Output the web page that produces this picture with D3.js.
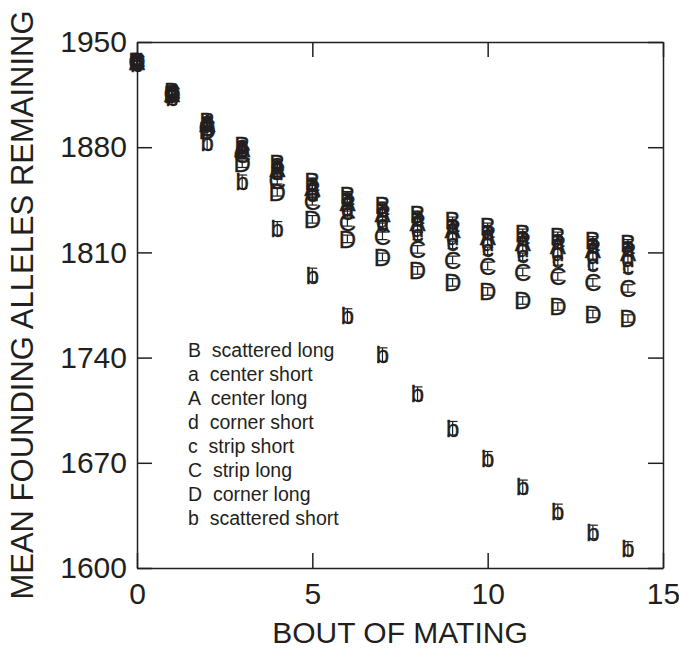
<!DOCTYPE html>
<html><head><meta charset="utf-8">
<script src="https://cdn.jsdelivr.net/npm/d3@7"></script>
<style>body{margin:0;background:#fff}</style>
</head><body><svg id="c" width="679" height="650"></svg>
<script>
const bouts = [0,1,2,3,4,5,6,7,8,9,10,11,12,13,14];
const seriesKeys = ["B","a","A","d","c","C","D","b"];
const seriesNames = ["scattered long","center short","center long","corner short","strip short","strip long","corner long","scattered short"];
const valB = [1937,1917,1897,1881,1869,1857,1848,1841,1835,1831,1827,1823,1821,1818,1816];
const vala = [1937,1917,1896,1880,1868,1855,1846,1839,1833,1828,1824,1820,1818,1815,1813];
const valA = [1937,1916,1896,1879,1866,1853,1843,1836,1830,1825,1821,1817,1815,1812,1810];
const vald = [1937,1916,1895,1878,1864,1850,1840,1832,1826,1821,1817,1813,1810,1808,1806];
const valc = [1937,1916,1894,1877,1862,1848,1836,1828,1821,1815,1811,1807,1804,1801,1799];
const valC = [1937,1916,1893,1875,1858,1844,1830,1821,1812,1805,1801,1797,1794,1790,1786];
const valD = [1937,1915,1891,1869,1850,1832,1819,1807,1798,1790,1784,1778,1774,1769,1766];
const valb = [1936,1913,1883,1857,1826,1795,1768,1742,1716,1693,1673,1654,1638,1624,1613];
const seValues = [2.5,2.5,2.5,2.5,2.5,2.5,2.5,4.5];
const xTicks = [0,5,10,15];
const yTicks = [1600,1670,1740,1810,1880,1950];
const xTitle = "BOUT OF MATING";
const yTitle = "MEAN FOUNDING ALLELES REMAINING";

const allVals = [valB,vala,valA,vald,valc,valC,valD,valb];
const ink = "#231f20";
const font = "'Liberation Sans', Arial, Helvetica, sans-serif";
const svg = d3.select("#c");
const L = 137, R = 663, T = 42, Bm = 568;
const x = d3.scaleLinear().domain([0,15]).range([L,R]);
const y = d3.scaleLinear().domain([1600,1950]).range([Bm,T]);

function styleAxis(g){
  g.selectAll("path,line").attr("stroke", ink).attr("stroke-width", 1.5);
  g.selectAll("text").attr("fill", ink).attr("font-family", font).attr("font-size", 30);
}
svg.append("g").attr("transform",`translate(0,${Bm})`)
  .call(d3.axisBottom(x).tickValues(xTicks).tickSize(-15).tickSizeOuter(0).tickPadding(15).tickFormat(d3.format("d")))
  .call(styleAxis);
svg.append("g").attr("transform",`translate(0,${T})`)
  .call(d3.axisTop(x).tickValues(xTicks).tickSize(-15).tickSizeOuter(0).tickFormat(""))
  .call(styleAxis);
svg.append("g").attr("transform",`translate(${L},0)`)
  .call(d3.axisLeft(y).tickValues(yTicks).tickSize(-15).tickSizeOuter(0).tickPadding(10).tickFormat(d3.format("d")))
  .call(styleAxis);
svg.append("g").attr("transform",`translate(${R},0)`)
  .call(d3.axisRight(y).tickValues(yTicks).tickSize(-15).tickSizeOuter(0).tickFormat(""))
  .call(styleAxis);

// titles
svg.append("text").attr("x", (L+R)/2).attr("y", 643).attr("text-anchor","middle")
  .attr("font-family", font).attr("font-size", 30).attr("fill", ink).text(xTitle);
svg.append("text").attr("transform", `translate(33,${(T+Bm)/2}) rotate(-90)`).attr("text-anchor","middle")
  .attr("font-family", font).attr("font-size", 31).attr("fill", ink).text(yTitle);

// markers
const fs = 24, cap = 5;
const pts = [];
seriesKeys.forEach((k,i)=>{
  allVals[i].forEach((v,j)=>pts.push({k, x:bouts[j], v, se:seValues[i]}));
});
const gm = svg.append("g");
pts.forEach(p=>{
  const cx = x(p.x), cy = y(p.v);
  const off = (p.k === "a" || p.k === "c") ? 0.26*fs : 0.36*fs;
  gm.append("text").attr("x", cx).attr("y", cy + off).attr("text-anchor","middle")
    .attr("font-family", font).attr("font-size", fs).attr("fill", ink)
    .attr("stroke", ink).attr("stroke-width", 0.3).text(p.k);
  const y1 = y(p.v + p.se), y2 = y(p.v - p.se);
  gm.append("line").attr("x1",cx).attr("x2",cx).attr("y1",y1).attr("y2",y2).attr("stroke",ink).attr("stroke-width",1.2);
  gm.append("line").attr("x1",cx-cap).attr("x2",cx+cap).attr("y1",y1).attr("y2",y1).attr("stroke",ink).attr("stroke-width",1.2);
  gm.append("line").attr("x1",cx-cap).attr("x2",cx+cap).attr("y1",y2).attr("y2",y2).attr("stroke",ink).attr("stroke-width",1.2);
});

// legend
const lg = svg.append("g");
seriesKeys.forEach((k,i)=>{
  lg.append("text").attr("x", 188).attr("y", 357 + 24*i)
    .attr("font-family", font).attr("font-size", 19.5).attr("fill", ink)
    .style("white-space","pre").text(k + "  " + seriesNames[i]);
});
</script></body></html>
